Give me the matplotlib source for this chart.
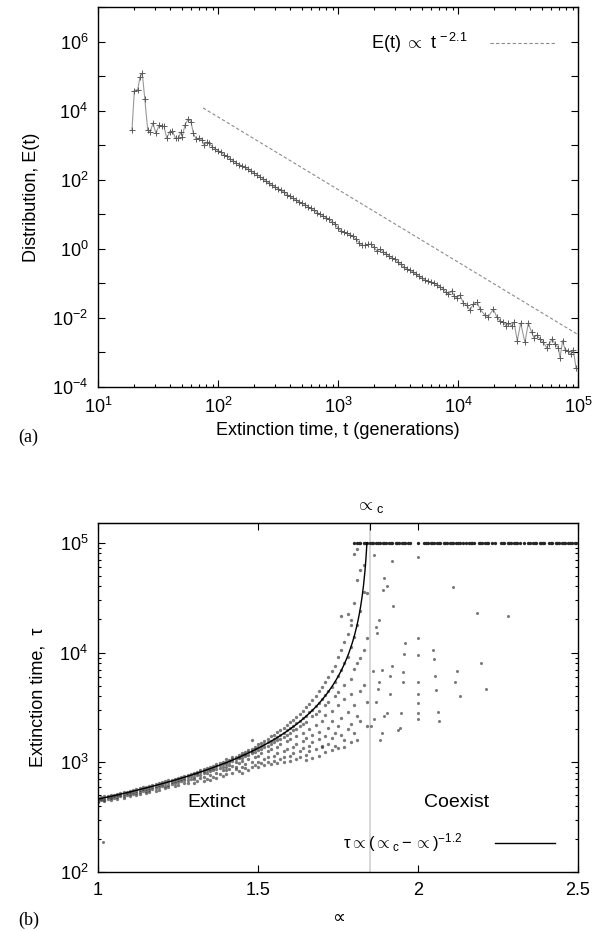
""" extinction-time distribution (a) and extinction time against the control parameter (b) """

import numpy as np
from matplotlib import pyplot as plt
from matplotlib.ticker import FixedLocator, FuncFormatter, LogLocator, NullFormatter

dist_log_t = [
	1.283, 1.303, 1.331, 1.350, 1.369, 1.390, 1.414, 1.436, 1.458, 1.483, 1.508, 1.530,
	1.550, 1.572, 1.600, 1.619, 1.647, 1.670, 1.689, 1.703, 1.725, 1.753, 1.775, 1.794,
	1.817, 1.842, 1.864, 1.886, 1.906, 1.928, 1.953, 1.975,
	2.000, 2.025, 2.050, 2.075, 2.100, 2.125, 2.150, 2.175, 2.200, 2.225, 2.250, 2.275,
	2.300, 2.325, 2.350, 2.375, 2.400, 2.425, 2.450, 2.475, 2.500, 2.525, 2.550, 2.575,
	2.600, 2.625, 2.650, 2.675, 2.700, 2.725, 2.750, 2.775, 2.800, 2.825, 2.850, 2.875,
	2.900, 2.925, 2.950, 2.975, 3.000, 3.025, 3.050, 3.075, 3.100, 3.125, 3.150, 3.175,
	3.200, 3.225, 3.250, 3.275, 3.300, 3.325, 3.350, 3.375, 3.400, 3.425, 3.450, 3.475,
	3.500, 3.525, 3.550, 3.575, 3.600, 3.625, 3.650, 3.675, 3.700, 3.725, 3.750, 3.775,
	3.800, 3.825, 3.850, 3.875, 3.900, 3.920, 3.947, 3.970, 3.989, 4.017, 4.044, 4.072,
	4.100, 4.128, 4.161, 4.183, 4.225, 4.253, 4.294, 4.322, 4.350, 4.378, 4.400, 4.420,
	4.447, 4.467, 4.494, 4.522, 4.558, 4.586, 4.614, 4.633, 4.656, 4.683, 4.711, 4.739,
	4.758, 4.786, 4.808, 4.836, 4.850, 4.872, 4.892, 4.919, 4.939, 4.961, 4.983,
]
dist_log_E = [
	3.44, 4.58, 4.61, 4.97, 5.08, 4.34, 3.45, 3.39, 3.64, 3.34, 3.57, 3.55,
	3.55, 3.21, 3.39, 3.40, 3.20, 3.20, 3.37, 3.25, 3.59, 3.76, 3.68, 3.35,
	3.18, 3.20, 3.15, 3.01, 3.08, 3.06, 2.95, 2.90,
	2.84, 2.80, 2.72, 2.68, 2.60, 2.55, 2.49, 2.44, 2.40, 2.36, 2.30, 2.26,
	2.20, 2.15, 2.08, 2.03, 1.95, 1.90, 1.84, 1.80, 1.74, 1.70, 1.64, 1.57,
	1.52, 1.46, 1.41, 1.36, 1.32, 1.28, 1.22, 1.17, 1.11, 1.05, 1.01, 0.96,
	0.90, 0.85, 0.79, 0.72, 0.60, 0.52, 0.49, 0.45, 0.41, 0.36, 0.28, 0.18,
	0.10, 0.10, 0.13, 0.14, 0.04, -0.06, -0.01, -0.08, -0.14, -0.20, -0.26, -0.30,
	-0.38, -0.45, -0.53, -0.58, -0.62, -0.67, -0.74, -0.80, -0.85, -0.90, -0.94, -0.97,
	-1.00, -1.05, -1.10, -1.15, -1.26, -1.32, -1.22, -1.38, -1.41, -1.34, -1.57, -1.63,
	-1.77, -1.60, -1.55, -1.75, -1.92, -1.96, -1.75, -1.96, -2.09, -2.13, -2.23, -2.15,
	-2.23, -2.13, -2.66, -2.15, -2.71, -2.15, -2.42, -2.57, -2.50, -2.61, -2.71, -2.86,
	-2.76, -2.61, -2.76, -2.86, -3.15, -2.66, -2.92, -2.95, -3.05, -2.92, -3.44,
]
power_law_t = [75, 1e5]
power_law_amplitude = 1.2e4  # value of the guide line at t = 75
power_law_exponent = -2.1

# ---- panel (b): extinction time against the parameter, runs grouped by parameter value
band_alpha = [
	1.00, 1.01, 1.02, 1.03, 1.04, 1.05, 1.06, 1.07, 1.08, 1.09,
	1.10, 1.11, 1.12, 1.13, 1.14, 1.15, 1.16, 1.17, 1.18, 1.19,
	1.20, 1.21, 1.22, 1.23, 1.24, 1.25, 1.26, 1.27, 1.28, 1.29,
	1.30, 1.31, 1.32, 1.33, 1.34, 1.35, 1.36, 1.37, 1.38, 1.39,
	1.40, 1.41, 1.42, 1.43, 1.44, 1.45, 1.46, 1.47, 1.48, 1.49,
	1.50, 1.51, 1.52, 1.53, 1.54, 1.55, 1.56, 1.57, 1.58, 1.59,
	1.60, 1.61, 1.62, 1.63, 1.64, 1.65, 1.66, 1.67, 1.68, 1.69,
	1.70, 1.71, 1.72, 1.73, 1.74, 1.75, 1.76, 1.77, 1.78, 1.79,
	1.80, 1.81, 1.82, 1.83, 1.84,
]
band_log_tau = [
	[2.675, 2.662, 2.650, 2.640], [2.680, 2.668, 2.655], [2.688, 2.672, 2.660, 2.645],
	[2.690, 2.679, 2.664], [2.700, 2.686, 2.672, 2.655], [2.705, 2.690, 2.678],
	[2.712, 2.700, 2.685, 2.668], [2.720, 2.705, 2.690], [2.726, 2.712, 2.695, 2.678],
	[2.732, 2.718, 2.702], [2.742, 2.726, 2.710, 2.690], [2.748, 2.732, 2.715],
	[2.755, 2.740, 2.722, 2.700], [2.762, 2.746, 2.728, 2.712], [2.770, 2.752, 2.735],
	[2.778, 2.760, 2.742, 2.720], [2.785, 2.768, 2.750, 2.730], [2.792, 2.776, 2.755],
	[2.802, 2.784, 2.765, 2.742], [2.810, 2.790, 2.770, 2.750], [2.818, 2.800, 2.780],
	[2.826, 2.808, 2.788, 2.765], [2.835, 2.816, 2.795, 2.772], [2.842, 2.822, 2.800],
	[2.850, 2.832, 2.810, 2.785], [2.860, 2.840, 2.818, 2.792], [2.868, 2.848, 2.825],
	[2.878, 2.858, 2.835, 2.808], [2.888, 2.866, 2.842, 2.815], [2.895, 2.875, 2.850],
	[2.905, 2.890, 2.870, 2.845, 2.810], [2.915, 2.898, 2.880, 2.830],
	[2.928, 2.910, 2.885, 2.860], [2.935, 2.918, 2.900, 2.870, 2.825],
	[2.948, 2.930, 2.905, 2.850], [2.958, 2.940, 2.920, 2.885, 2.840],
	[2.968, 2.950, 2.930, 2.870], [2.980, 2.962, 2.940, 2.905, 2.860],
	[2.992, 2.972, 2.950, 2.890], [3.005, 2.985, 2.960, 2.925, 2.875],
	[3.030, 3.005, 2.985, 2.960, 2.925, 2.890], [3.020, 3.000, 2.978, 2.940],
	[3.045, 3.028, 3.010, 2.970, 2.905], [3.048, 3.030, 3.005, 2.955, 2.935],
	[3.070, 3.050, 3.035, 2.990, 2.920], [3.085, 3.062, 3.040, 3.010, 2.960, 2.900],
	[3.095, 3.075, 3.055, 2.980, 2.945], [3.115, 3.090, 3.070, 3.030, 2.930],
	[3.200, 3.125, 3.100, 3.080, 3.005, 2.960], [3.140, 3.118, 3.095, 3.050, 2.975],
	[3.165, 3.135, 3.110, 3.060, 3.000, 2.955], [3.175, 3.150, 3.125, 3.085, 2.990],
	[3.195, 3.165, 3.140, 3.030, 2.975], [3.215, 3.180, 3.150, 3.100, 3.045, 3.000],
	[3.235, 3.195, 3.170, 3.120, 2.985], [3.250, 3.215, 3.185, 3.060, 3.010],
	[3.275, 3.230, 3.200, 3.140, 3.080, 2.990], [3.290, 3.250, 3.215, 3.170, 3.030],
	[3.310, 3.270, 3.230, 3.100, 3.050, 3.000], [3.340, 3.290, 3.250, 3.190, 3.120],
	[3.370, 3.310, 3.270, 3.215, 3.060, 3.010], [3.385, 3.330, 3.290, 3.140, 3.085],
	[3.410, 3.355, 3.300, 3.240, 3.170, 3.030], [3.440, 3.375, 3.330, 3.105, 3.050],
	[3.470, 3.400, 3.350, 3.270, 3.190, 3.130], [3.500, 3.425, 3.370, 3.220, 3.070, 3.020],
	[3.530, 3.455, 3.300, 3.150, 3.100], [3.570, 3.480, 3.420, 3.250, 3.180, 3.040],
	[3.600, 3.510, 3.440, 3.340, 3.120], [3.650, 3.540, 3.470, 3.280, 3.210, 3.060],
	[3.690, 3.575, 3.380, 3.150, 3.140], [3.730, 3.610, 3.520, 3.430, 3.240, 3.090],
	[3.780, 3.650, 3.550, 3.310, 3.170], [3.830, 3.690, 3.470, 3.380, 3.220, 3.110],
	[3.880, 3.735, 3.600, 3.270, 3.150], [3.960, 3.790, 3.640, 3.520, 3.330, 3.130],
	[4.330, 4.020, 3.840, 3.400, 3.250], [4.100, 3.900, 3.700, 3.580, 3.200, 3.140],
	[4.350, 4.170, 3.960, 3.460, 3.300], [4.300, 4.250, 4.050, 3.760, 3.620, 3.350, 3.180],
	[4.900, 4.450, 4.140, 3.850, 3.520, 3.270], [4.940, 4.660, 4.250, 3.900, 3.420, 3.200],
	[4.750, 4.380, 3.950, 3.650, 3.380], [4.800, 4.550, 4.020, 3.700],
	[4.540, 4.130, 3.550, 3.330],
]
sparse_alpha = [
	1.864, 1.918, 1.999, 1.895, 1.904, 1.890, 1.923, 2.110, 2.185, 2.282, 1.877, 1.869,
	1.873, 1.999, 1.959, 1.957, 1.999, 2.048, 2.051, 2.196, 1.918, 1.954, 2.121, 2.053,
	1.886, 1.860, 1.879, 1.913, 1.952, 1.999, 2.117, 2.056, 1.876, 1.911, 2.212, 2.131,
	1.999, 1.869, 1.999, 1.902, 1.946, 1.999, 2.061, 2.066, 1.999, 1.895, 1.862, 1.943,
	1.938, 1.889, 1.853, 1.881, 1.017,
]
sparse_log_tau = [
	4.89, 4.83, 4.87, 4.68, 4.61, 4.57, 4.42, 4.60, 4.36, 4.33, 4.30, 4.23,
	4.18, 4.13, 4.09, 3.99, 3.98, 4.02, 3.94, 3.90, 3.88, 3.82, 3.83, 3.79,
	3.84, 3.83, 3.73, 3.79, 3.73, 3.73, 3.73, 3.66, 3.67, 3.62, 3.67, 3.60,
	3.62, 3.55, 3.54, 3.45, 3.45, 3.45, 3.46, 3.38, 3.39, 3.42, 3.39, 3.31,
	3.29, 3.27, 3.33, 3.20, 2.276,
]
# runs that never went extinct, stopped at the cap of 1e5 generations
capped_alpha = [
	1.80, 1.81, 1.815, 1.82, 1.83, 1.835, 1.84, 1.85, 1.855, 1.86, 1.87, 1.875, 1.88,
	1.89, 1.895, 1.90, 1.91, 1.915, 1.92, 1.93, 1.935, 1.94, 1.95, 1.955, 1.96, 1.97,
	1.975, 2.00, 2.02, 2.025, 2.03, 2.04, 2.045, 2.05, 2.06, 2.065, 2.07, 2.08, 2.085,
	2.09, 2.10, 2.105, 2.11, 2.12, 2.125, 2.13, 2.14, 2.15, 2.16, 2.165, 2.17, 2.175,
	2.19, 2.195, 2.20, 2.21, 2.215, 2.22, 2.23, 2.24, 2.26, 2.265, 2.27, 2.28, 2.285,
	2.29, 2.30, 2.305, 2.31, 2.32, 2.33, 2.345, 2.35, 2.36, 2.365, 2.37, 2.38, 2.385,
	2.39, 2.395, 2.41, 2.415, 2.42, 2.43, 2.435, 2.44, 2.45, 2.455, 2.46, 2.47, 2.475,
	2.48, 2.49, 2.495,
]
capped_tau = 1e5
alpha_c = 1.85
fit_amplitude = 380
fit_exponent = -1.2

plt.rcParams["font.family"] = ["Liberation Sans", "DejaVu Sans"]
plt.rcParams["font.size"] = 13
plt.rcParams["mathtext.fontset"] = "custom"
plt.rcParams["mathtext.rm"] = "Liberation Sans"
plt.rcParams["mathtext.it"] = "Liberation Sans:italic"
plt.rcParams["mathtext.default"] = "rm"


def power_label(value, _):
	exponent = int(round(np.log10(value)))
	return rf"$\mathdefault{{10^{{{exponent}}}}}$"


def even_power_label(value, _):
	exponent = int(round(np.log10(value)))
	return rf"$\mathdefault{{10^{{{exponent}}}}}$" if exponent % 2 == 0 else ""


fig = plt.figure(figsize=(6.01, 9.31), dpi=100)
W, H = 601, 931
ax_a = fig.add_axes([98/W, 1 - 387/H, 480/W, 380/H])
ax_b = fig.add_axes([98/W, 1 - 872/H, 480/W, 349/H])

# (a)
t = 10**np.array(dist_log_t)
E = 10**np.array(dist_log_E)
ax_a.plot(t, E, "-", color="0.6", lw=0.8, marker="+", ms=5, mec="0.35", mew=0.7)
guide_t = np.array(power_law_t)
guide_E = power_law_amplitude*(guide_t/guide_t[0])**power_law_exponent
ax_a.plot(guide_t, guide_E, ls=(0, (3, 2)), color="0.55", lw=0.8, label=r"E(t) $\propto$ t$^{\,-2.1}$")
ax_a.set_xscale("log")
ax_a.set_yscale("log")
ax_a.set_xlim(10, 1e5)
ax_a.set_ylim(1e-4, 1e7)
ax_a.yaxis.set_major_locator(FixedLocator(10.0**np.arange(-4, 8)))
ax_a.yaxis.set_major_formatter(FuncFormatter(even_power_label))
ax_a.yaxis.set_minor_locator(FixedLocator([]))
ax_a.xaxis.set_major_locator(FixedLocator(10.0**np.arange(1, 6)))
ax_a.xaxis.set_major_formatter(FuncFormatter(power_label))
ax_a.xaxis.set_minor_locator(LogLocator(base=10, subs=np.arange(2, 10), numticks=20))
ax_a.xaxis.set_minor_formatter(NullFormatter())
ax_a.set_xlabel("Extinction time, t (generations)", labelpad=4)
ax_a.set_ylabel("Distribution, E(t)", labelpad=9)
ax_a.legend(loc="center right", bbox_to_anchor=(0.97, 0.905), frameon=False, markerfirst=False,
	handlelength=3.6, handletextpad=1.2, borderpad=0, fontsize=13)
fig.text(18/W, 1 - 437/H, "(a)", family="Liberation Serif", fontsize=13, va="center")

# (b)
ax_b.axvline(alpha_c, color="0.82", lw=1.2, zorder=0)
for a, logs in zip(band_alpha, band_log_tau):
	ax_b.plot([a]*len(logs), 10**np.array(logs), "o", ms=2.4, mew=0, color="0.2", alpha=0.65)
ax_b.plot(sparse_alpha, 10**np.array(sparse_log_tau), "o", ms=2.2, mew=0, color="0.2", alpha=0.65)
ax_b.plot(capped_alpha, [capped_tau]*len(capped_alpha), "o", ms=2.4, mew=0, color="0.15")
alpha_top = alpha_c - (fit_amplitude/capped_tau)**(1/-fit_exponent)
fit_alpha = np.linspace(1.0, alpha_top, 400)
ax_b.plot(fit_alpha, fit_amplitude*(alpha_c - fit_alpha)**fit_exponent, color="k", lw=1.0,
	label=r"$\tau \propto (\propto_c - \propto)^{-1.2}$")
ax_b.set_yscale("log")
ax_b.set_xlim(1, 2.5)
ax_b.set_ylim(100, 10**5.18)
ax_b.set_xticks([1, 1.5, 2, 2.5], labels=["1", "1.5", "2", "2.5"])
ax_b.yaxis.set_major_locator(FixedLocator(10.0**np.arange(2, 6)))
ax_b.yaxis.set_major_formatter(FuncFormatter(power_label))
ax_b.yaxis.set_minor_locator(LogLocator(base=10, subs=np.arange(2, 10), numticks=20))
ax_b.yaxis.set_minor_formatter(NullFormatter())
ax_b.text(1.37, 430, "Extinct", ha="center", va="center", fontsize=14)
ax_b.text(2.12, 430, "Coexist", ha="center", va="center", fontsize=14)
ax_b.legend(loc="center right", bbox_to_anchor=(0.97, 0.083), frameon=False, markerfirst=False,
	handlelength=3.6, handletextpad=2.0, borderpad=0, fontsize=12)
ax_b.set_xlabel("∝", labelpad=8)
ax_b.set_ylabel("Extinction time,  τ", labelpad=9)
top = ax_b.secondary_xaxis("top")
top.set_xticks([alpha_c], labels=[r"$\propto_c$"])
top.tick_params(direction="in", length=5, width=0.8, pad=6)
fig.text(18/W, 1 - 920/H, "(b)", family="Liberation Serif", fontsize=13, va="center")

for ax in (ax_a, ax_b):
	ax.tick_params(which="both", direction="in", top=True, right=True, width=0.8)
	ax.tick_params(which="major", length=5, pad=7)
	ax.tick_params(which="minor", length=2.5)
	for spine in ax.spines.values():
		spine.set_linewidth(1.0)

fig.savefig("out.png", dpi=100)
